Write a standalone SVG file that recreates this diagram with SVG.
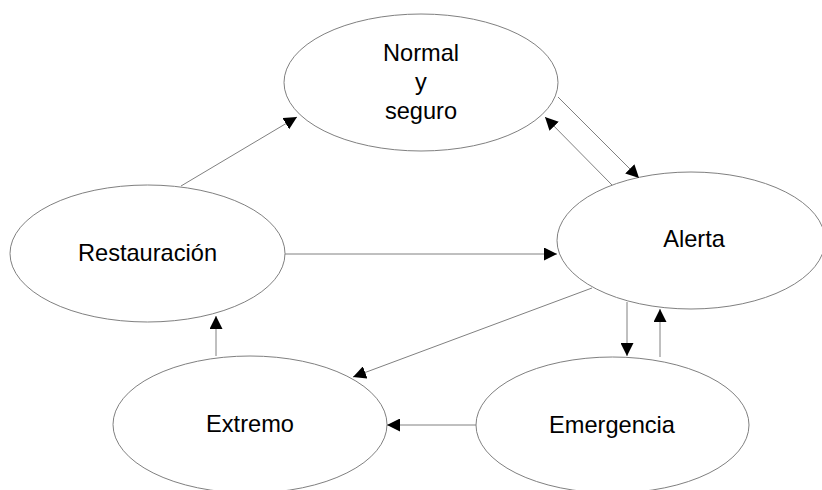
<svg xmlns="http://www.w3.org/2000/svg" width="822" height="490" viewBox="0 0 822 490">
<style>
.node ellipse{fill:#fff;stroke:#808080;stroke-width:1}
.node text{font-family:"Liberation Sans",Arial,sans-serif;font-size:23.6px;fill:#000;text-anchor:middle}
.edges line{stroke:#808080;stroke-width:1;marker-end:url(#arr)}
</style>
<defs>
<marker id="arr" markerUnits="userSpaceOnUse" markerWidth="14" markerHeight="13" refX="13" refY="6.5" orient="auto">
<path d="M0,0 L13,6.5 L0,13 z" fill="#000"/>
</marker>
</defs>
<rect width="822" height="490" fill="#fff"/>
<g id="n-normal" class="node">
<ellipse cx="421" cy="82.5" rx="137" ry="68.5"/>
<text x="421" y="61">Normal</text>
<text x="421" y="90">y</text>
<text x="421" y="119">seguro</text>
</g>
<g id="n-alerta" class="node">
<ellipse cx="691" cy="240.5" rx="134" ry="68.5"/>
<text x="694" y="247">Alerta</text>
</g>
<g id="n-restauracion" class="node">
<ellipse cx="147.5" cy="253.5" rx="137.5" ry="68.5"/>
<text x="147.5" y="261">Restauración</text>
</g>
<g id="n-extremo" class="node">
<ellipse cx="250" cy="424.5" rx="137" ry="68.5"/>
<text x="250" y="432">Extremo</text>
</g>
<g id="n-emergencia" class="node">
<ellipse cx="612.5" cy="425" rx="136.5" ry="68"/>
<text x="612" y="433">Emergencia</text>
</g>
<g id="edges" class="edges">
<line x1="181" y1="186" x2="297" y2="117"/>
<line x1="558" y1="97" x2="639" y2="178"/>
<line x1="612" y1="185" x2="545" y2="117"/>
<line x1="285" y1="254" x2="557" y2="254"/>
<line x1="592" y1="288" x2="353" y2="377"/>
<line x1="627" y1="302" x2="627" y2="356"/>
<line x1="660" y1="357" x2="660" y2="309"/>
<line x1="476" y1="425" x2="387" y2="425"/>
<line x1="216" y1="356" x2="216" y2="316"/>
</g>
</svg>
